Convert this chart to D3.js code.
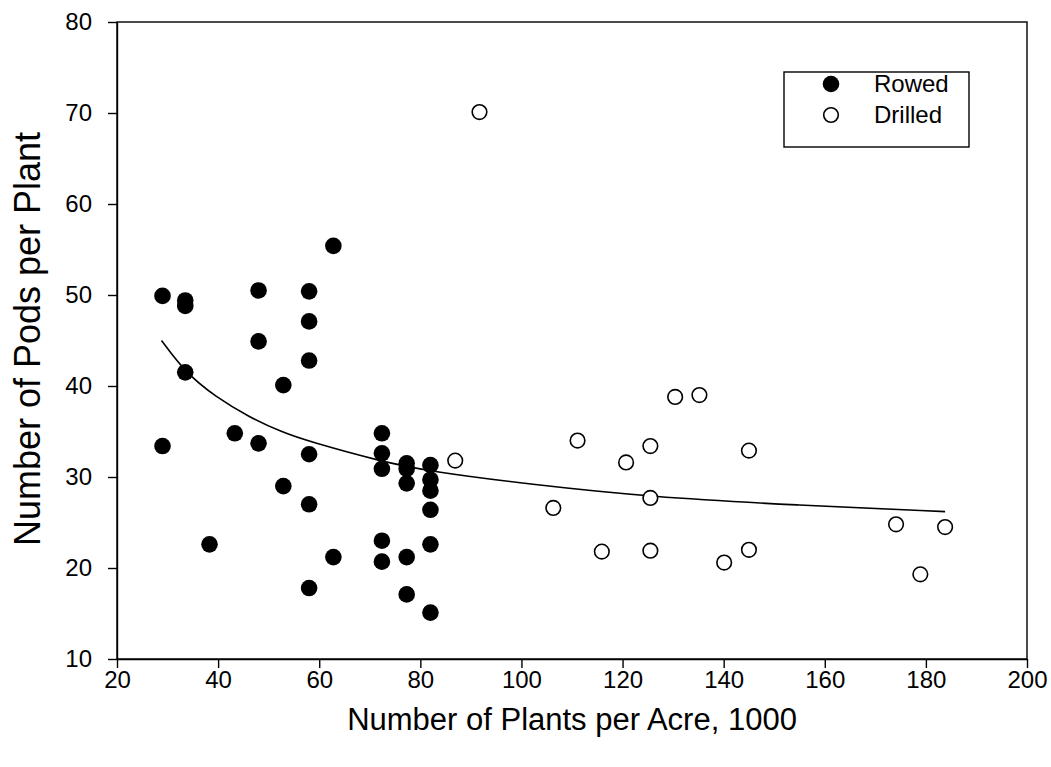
<!DOCTYPE html>
<html>
<head>
<meta charset="utf-8">
<script src="https://cdn.jsdelivr.net/npm/d3@7"></script>
<style>
  html, body { margin: 0; padding: 0; background: #fff; }
  svg { display: block; }
  text { font-family: "Liberation Sans", Arial, sans-serif; fill: #000; }
</style>
</head>
<body>
<svg id="chart" width="1051" height="767"></svg>
<script>
// Rowed (filled circles)
const rowedX = [29, 29, 33.5, 33.5, 33.5, 38.3, 43.3, 48, 48, 48, 52.9, 52.9,
                58, 58, 58, 58, 58, 58, 62.8, 62.8,
                72.4, 72.4, 72.4, 72.4, 72.4,
                77.3, 77.3, 77.3, 77.3, 77.3,
                82, 82, 82, 82, 82, 82];
const rowedY = [49.9, 33.4, 49.4, 48.8, 41.5, 22.6, 34.8, 50.5, 44.9, 33.7, 40.1, 29.0,
                50.4, 47.1, 42.8, 32.5, 27.0, 17.8, 55.4, 21.2,
                34.8, 32.6, 30.9, 23.0, 20.7,
                31.5, 30.9, 29.3, 21.2, 17.1,
                31.3, 29.7, 28.5, 26.4, 22.6, 15.1];
// Drilled (open circles)
const drilledX = [86.9, 91.7, 106.3, 111.1, 115.9, 120.7, 125.5, 125.5, 125.5, 130.4, 135.2,
                  140.1, 145, 145, 174.1, 178.9, 183.8];
const drilledY = [31.8, 70.1, 26.6, 34.0, 21.8, 31.6, 33.4, 27.7, 21.9, 38.8, 39.0,
                  20.6, 32.9, 22.0, 24.8, 19.3, 24.5];
// Fitted curve
const fitX = [28.8, 33.5, 39.5, 46.1, 52.7, 58, 72.3, 82, 101.6, 125.5, 154.4, 183.8];
const fitY = [45.0, 41.5, 38.8, 36.6, 34.9, 33.9, 31.7, 30.6, 29.2, 27.8, 26.9, 26.2];

const xTicks = [20, 40, 60, 80, 100, 120, 140, 160, 180, 200];
const yTicks = [10, 20, 30, 40, 50, 60, 70, 80];
const seriesNames = ["Rowed", "Drilled"];
const xTitle = "Number of Plants per Acre, 1000";
const yTitle = "Number of Pods per Plant";

const svg = d3.select("#chart");
const L = 117, R = 1027, T = 22, B = 659;
const x = d3.scaleLinear().domain([20, 200]).range([L, R]);
const y = d3.scaleLinear().domain([10, 80]).range([B, T]);

// frame
svg.append("rect").attr("x", L).attr("y", T).attr("width", R - L).attr("height", B - T)
  .attr("fill", "none").attr("stroke", "#000").attr("stroke-width", 1.4);

const xAxis = svg.append("g").attr("transform", `translate(0,${B})`)
  .call(d3.axisBottom(x).tickValues(xTicks).tickSize(9).tickSizeOuter(0).tickPadding(3));
const yAxis = svg.append("g").attr("transform", `translate(${L},0)`)
  .call(d3.axisLeft(y).tickValues(yTicks).tickSize(9).tickSizeOuter(0).tickPadding(16));
[xAxis, yAxis].forEach(g => {
  g.select(".domain").attr("stroke", "#000").attr("stroke-width", 1.4);
  g.selectAll(".tick line").attr("stroke", "#000").attr("stroke-width", 1.4);
  g.selectAll(".tick text").attr("font-size", 24).attr("font-family", "Liberation Sans, Arial, sans-serif").attr("fill", "#000");
});

// fit curve
const line = d3.line().x(d => x(d[0])).y(d => y(d[1])).curve(d3.curveBasis);
svg.append("path").datum(fitX.map((v, i) => [v, fitY[i]]))
  .attr("d", line).attr("fill", "none").attr("stroke", "#000").attr("stroke-width", 1.6);

// points
svg.append("g").selectAll("circle").data(rowedX.map((v, i) => [v, rowedY[i]])).join("circle")
  .attr("cx", d => x(d[0])).attr("cy", d => y(d[1])).attr("r", 8.3).attr("fill", "#000");
svg.append("g").selectAll("circle").data(drilledX.map((v, i) => [v, drilledY[i]])).join("circle")
  .attr("cx", d => x(d[0])).attr("cy", d => y(d[1])).attr("r", 7.3)
  .attr("fill", "#fff").attr("stroke", "#000").attr("stroke-width", 1.6);

// axis titles
svg.append("text").attr("x", 572).attr("y", 730).attr("text-anchor", "middle")
  .attr("font-size", 31).text(xTitle);
svg.append("text").attr("transform", `translate(40,339) rotate(-90)`)
  .attr("text-anchor", "middle").attr("font-size", 36).text(yTitle);

// legend
const lg = svg.append("g");
lg.append("rect").attr("x", 784).attr("y", 72).attr("width", 185).attr("height", 75)
  .attr("fill", "#fff").attr("stroke", "#000").attr("stroke-width", 1.4);
lg.append("circle").attr("cx", 831).attr("cy", 84).attr("r", 8.3).attr("fill", "#000");
lg.append("circle").attr("cx", 831).attr("cy", 115).attr("r", 7.3)
  .attr("fill", "#fff").attr("stroke", "#000").attr("stroke-width", 1.6);
lg.append("text").attr("x", 874).attr("y", 92).attr("font-size", 24).text(seriesNames[0]);
lg.append("text").attr("x", 874).attr("y", 123).attr("font-size", 24).text(seriesNames[1]);
</script>
</body>
</html>
